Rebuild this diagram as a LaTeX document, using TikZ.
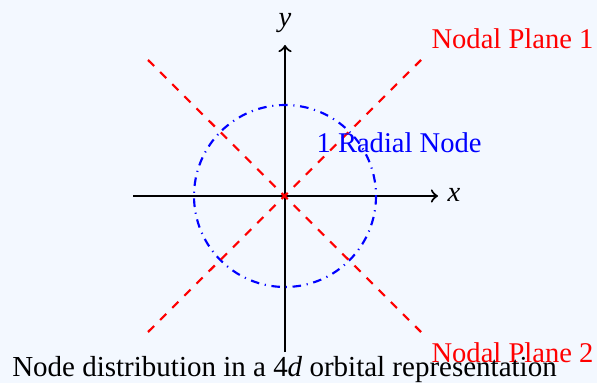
\documentclass[tikz,border=0pt]{standalone}
\usepackage{fontspec}
\setmainfont{Liberation Serif}
\definecolor{bgc}{RGB}{243,248,255}
\begin{document}
\begin{tikzpicture}[x=0.35pt,y=-0.35pt,
  axis/.style={line width=0.75pt,->},
  plane/.style={red,dashed,line width=0.75pt},
  radial/.style={blue,dash dot,line width=0.75pt},
  lbl/.style={inner sep=0pt,font=\fontsize{10pt}{12pt}\selectfont}]
\fill[bgc] (0,0) rectangle (597,383);
\useasboundingbox (0,0) rectangle (597,383);
\coordinate (O) at (285,196);
\coordinate (xs) at (133,196);
\coordinate (xe) at (438,196);
\coordinate (ys) at (285,352);
\coordinate (ye) at (285,45);
\coordinate (a1) at (148,332);
\coordinate (b1) at (421,60);
\coordinate (a2) at (148,60);
\coordinate (b2) at (421,332);
\draw[axis] (xs) -- (xe);
\draw[axis] (ys) -- (ye);
\draw[radial] (O) circle (91);
\draw[plane] (a1) -- (b1);
\draw[plane] (a2) -- (b2);
\node[lbl,anchor=west] (xl) at (447,195) {\textit{x}};
\node[lbl] (yl) at (285,23) {\textit{y}};
\node[lbl,red,anchor=base west] (np1) at (431,49) {Nodal Plane 1};
\node[lbl,red,anchor=base west] (np2) at (431,362) {Nodal Plane 2};
\node[lbl,blue,anchor=base west] (rn) at (316,153) {1 Radial Node};
\node[lbl,font=\fontsize{10.15pt}{12pt}\selectfont,anchor=base] (cap) at (284.5,376) {Node distribution in a 4\textit{d} orbital representation};
\end{tikzpicture}
\end{document}
